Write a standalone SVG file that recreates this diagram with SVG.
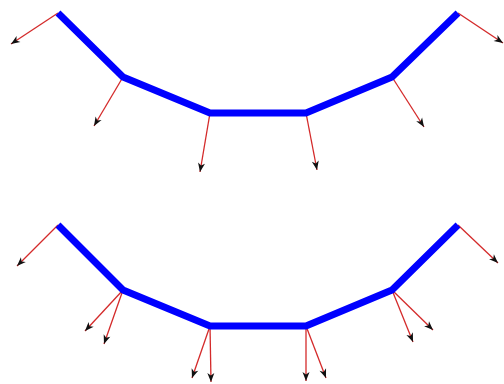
<svg xmlns="http://www.w3.org/2000/svg" width="504" height="384" viewBox="0 0 504 384">
<style>
.n{stroke:#d42a2a;stroke-width:1.3;fill:none;marker-end:url(#ah)}
.c{stroke:#0000ff;stroke-width:7;fill:none;stroke-linejoin:miter;stroke-linecap:butt}
</style>
<defs>
<marker id="ah" markerUnits="userSpaceOnUse" markerWidth="12" markerHeight="10" refX="0" refY="0" viewBox="-10 -5 12 10" orient="auto">
<path d="M0,0 L-9,-3.5 L-6.5,0 L-9,3.5 Z" fill="#111"/>
</marker>
</defs>
<rect width="504" height="384" fill="#fff"/>
<g id="top">
<line class="n" x1="58" y1="13" x2="11" y2="44"/>
<line class="n" x1="123" y1="77" x2="94" y2="126"/>
<line class="n" x1="210" y1="113" x2="200" y2="172"/>
<line class="n" x1="306" y1="113" x2="317" y2="170"/>
<line class="n" x1="392" y1="77" x2="424" y2="127"/>
<line class="n" x1="458" y1="13" x2="503" y2="43"/>
<polyline class="c" points="58,13 123,77 210,113 306,113 392,77 458,13"/>
</g>
<g id="bottom">
<line class="n" x1="58" y1="225" x2="17" y2="266"/>
<line class="n" x1="123" y1="290" x2="85" y2="331"/>
<line class="n" x1="123" y1="290" x2="104" y2="344"/>
<line class="n" x1="210" y1="326" x2="192" y2="378"/>
<line class="n" x1="210" y1="326" x2="211" y2="382"/>
<line class="n" x1="306" y1="326" x2="306" y2="381"/>
<line class="n" x1="306" y1="326" x2="326" y2="378"/>
<line class="n" x1="392" y1="290" x2="413" y2="342"/>
<line class="n" x1="392" y1="290" x2="433" y2="330"/>
<line class="n" x1="458" y1="225" x2="498" y2="263"/>
<polyline class="c" points="58,225 123,290 210,326 306,326 392,290 458,225"/>
</g>
</svg>
